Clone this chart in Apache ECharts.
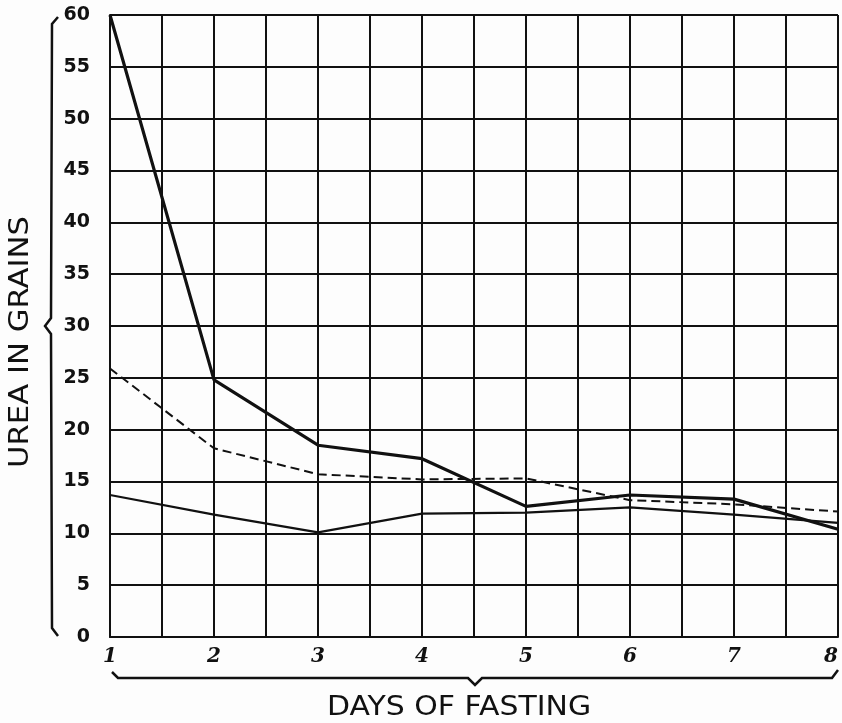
<!DOCTYPE html>
<html>
<head>
<meta charset="utf-8">
<script src="https://cdn.jsdelivr.net/npm/echarts@6/dist/echarts.min.js"></script>
<style>
  html, body { margin: 0; padding: 0; background: #fff; }
  #chart { width: 842px; height: 723px; }
</style>
</head>
<body>
<div id="chart"></div>
<script>
const days = [1, 2, 3, 4, 5, 6, 7, 8]
const heavyLine = [60, 24.8, 18.5, 17.2, 12.6, 13.7, 13.3, 10.4]
const dashedLine = [25.9, 18.2, 15.7, 15.2, 15.3, 13.2, 12.8, 12.1]
const lightLine = [13.7, 11.8, 10.1, 11.9, 12.0, 12.5, 11.8, 11.0]

const pairs = vals => days.map((d, i) => [d, vals[i]])
const ink = '#111'

let chart = echarts.init(document.getElementById('chart'))
chart.setOption({
  backgroundColor: '#fdfdfd',
  animation: false,
  grid: { left: 110, right: 4, top: 15, bottom: 86, outerBoundsMode: 'none' },
  xAxis: {
    type: 'value',
    min: 1,
    max: 8,
    interval: 0.5,
    axisLine: { lineStyle: { color: ink, width: 2 } },
    axisTick: { show: false },
    splitLine: { lineStyle: { color: ink, width: 2 } },
    axisLabel: {
      margin: 10,
      color: ink,
      fontSize: 20,
      fontStyle: 'italic',
      fontWeight: 'bold',
      fontFamily: 'DejaVu Serif',
      alignMaxLabel: 'right',
      formatter: v => Number.isInteger(v) ? String(v) : ''
    }
  },
  yAxis: {
    type: 'value',
    min: 0,
    max: 60,
    interval: 5,
    axisLine: { show: true, lineStyle: { color: ink, width: 2 } },
    axisTick: { show: false },
    splitLine: { lineStyle: { color: ink, width: 2 } },
    axisLabel: {
      margin: 20,
      color: ink,
      fontSize: 19,
      fontWeight: 'bold',
      fontFamily: 'DejaVu Sans'
    }
  },
  graphic: [
    {
      type: 'polyline',
      shape: { points: [[58, 17], [52, 24], [51, 318], [45, 326], [51, 334], [52, 628], [58, 636]] },
      style: { stroke: ink, lineWidth: 2.5, fill: null }
    },
    {
      type: 'polyline',
      shape: { points: [[112, 672], [118, 678], [468, 678], [475, 685], [482, 678], [832, 678], [838, 670]] },
      style: { stroke: ink, lineWidth: 2.5, fill: null }
    },
    {
      type: 'text',
      x: 21,
      y: 342,
      rotation: Math.PI / 2,
      scaleX: 1.18,
      style: {
        text: 'UREA IN GRAINS',
        fill: ink,
        font: '26px "DejaVu Sans"',
        align: 'center',
        verticalAlign: 'middle'
      }
    },
    {
      type: 'text',
      x: 459,
      y: 708,
      scaleX: 1.15,
      style: {
        text: 'DAYS OF FASTING',
        fill: ink,
        font: '26px "DejaVu Sans"',
        align: 'center',
        verticalAlign: 'middle'
      }
    }
  ],
  series: [
    {
      name: 'heavy',
      type: 'line',
      data: pairs(heavyLine),
      symbol: 'none',
      lineStyle: { color: ink, width: 3.2 }
    },
    {
      name: 'dashed',
      type: 'line',
      data: pairs(dashedLine),
      symbol: 'none',
      lineStyle: { color: ink, width: 2, type: [9, 5] }
    },
    {
      name: 'light',
      type: 'line',
      data: pairs(lightLine),
      symbol: 'none',
      lineStyle: { color: ink, width: 2.2 }
    }
  ]
})

window.addEventListener('resize', () => {
  chart.resize()
})
</script>
</body>
</html>
